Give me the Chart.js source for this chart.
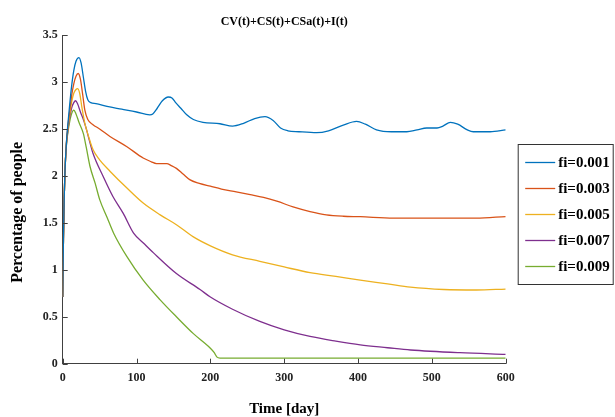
<!DOCTYPE html>
<html>
<head>
<meta charset="utf-8">
<script src="https://cdn.jsdelivr.net/npm/chart.js@4/dist/chart.umd.min.js"></script>
<style>
html,body{margin:0;padding:0;background:#fff;}
#wrap{width:615px;height:417px;}
</style>
</head>
<body>
<div id="wrap"><canvas id="c" width="615" height="417"></canvas></div>
<script>
// ---- data ----
const chartTitle = 'CV(t)+CS(t)+CSa(t)+I(t)';
const xTitle = 'Time [day]';
const yTitle = 'Percentage of people';
const seriesLabels = ['fi=0.001', 'fi=0.003', 'fi=0.005', 'fi=0.007', 'fi=0.009'];
const seriesColors = ['#0072BD', '#D95319', '#EDB120', '#7E2F8E', '#77AC30'];

const tFi001 = [0,1,2,3,5,7,9,12,15,18,22,25,28,31,34,38,45,60,80,100,118,122,128,135,143,148,153,160,168,177,190,213,230,245,260,274,285,295,305,320,344,360,380,398,410,425,445,466,480,493,507,515,525,535,548,556,579,600];
const vFi001 = [0.71,1.32,1.75,2.03,2.35,2.55,2.72,2.95,3.12,3.22,3.26,3.2,3.05,2.9,2.81,2.78,2.77,2.74,2.71,2.68,2.65,2.66,2.72,2.8,2.84,2.83,2.78,2.72,2.65,2.6,2.57,2.555,2.53,2.56,2.61,2.63,2.59,2.51,2.48,2.47,2.46,2.48,2.54,2.58,2.55,2.49,2.47,2.47,2.49,2.51,2.51,2.53,2.57,2.55,2.49,2.47,2.47,2.49];

const tFi003 = [0,1,2,3,5,7,9,12,15,18,21,24,27,30,34,41,50,64,87,109,120,127,135,141,147,154,163,172,185,200,215,235,254,272,290,312,335,357,380,403,448,515,560,600];
const vFi003 = [0.71,1.32,1.75,2.03,2.35,2.53,2.66,2.85,2.98,3.06,3.09,3.03,2.87,2.7,2.6,2.545,2.5,2.42,2.31,2.19,2.15,2.13,2.13,2.13,2.11,2.08,2.02,1.96,1.92,1.89,1.86,1.83,1.8,1.77,1.73,1.67,1.62,1.585,1.57,1.565,1.55,1.55,1.55,1.567];

const tFi005 = [0,1,2,3,5,7,9,12,15,18,20,23,26,30,35,41,50,64,87,109,132,154,177,200,230,267,300,335,370,403,440,471,516,560,600];
const vFi005 = [0.71,1.32,1.75,2.03,2.34,2.5,2.62,2.78,2.88,2.92,2.93,2.88,2.73,2.56,2.42,2.28,2.17,2.05,1.87,1.71,1.585,1.48,1.35,1.255,1.16,1.09,1.03,0.97,0.93,0.89,0.85,0.815,0.79,0.785,0.795];

const tFi007 = [0,1,2,3,5,7,9,12,15,17.5,20,24,28,32,36,41,55,68,82,96,110,123,154,186,200,230,267,300,335,370,403,440,471,538,600];
const vFi007 = [0.71,1.32,1.75,2.03,2.33,2.48,2.6,2.72,2.78,2.8,2.77,2.68,2.6,2.5,2.38,2.24,1.99,1.78,1.6,1.39,1.28,1.18,0.96,0.79,0.71,0.58,0.45,0.36,0.29,0.24,0.2,0.17,0.146,0.117,0.1];

const tFi009 = [0,1,2,3,5,7,9,12,15,18,22,28,32,37,44,50,60,69,87,109,132,154,177,200,205,209,213,600];
const vFi009 = [0.71,1.32,1.75,2.03,2.32,2.46,2.56,2.66,2.7,2.66,2.57,2.45,2.3,2.1,1.92,1.75,1.56,1.39,1.14,0.89,0.68,0.5,0.32,0.165,0.12,0.07,0.06,0.06];

const xTickStep = 100, xMin = 0, xMax = 600;
const yTickStep = 0.5, yMin = 0, yMax = 3.5;

// ---- build chart ----
const FONT = "'Liberation Serif', 'Times New Roman', serif";
const times = [tFi001, tFi003, tFi005, tFi007, tFi009];
const values = [vFi001, vFi003, vFi005, vFi007, vFi009];

const datasets = seriesLabels.map((lab, i) => ({
  label: lab,
  data: times[i].map((t, k) => ({x: t, y: values[i][k]})),
  borderColor: seriesColors[i],
  backgroundColor: seriesColors[i],
  borderWidth: 1.3,
  pointRadius: 0,
  fill: false,
  cubicInterpolationMode: 'monotone'
}));

const innerTicks = {
  id: 'innerTicks',
  afterDatasetsDraw(chart) {
    const {ctx, chartArea: a} = chart;
    const xs = chart.scales.x, ys = chart.scales.y;
    ctx.save();
    ctx.strokeStyle = '#404040';
    ctx.lineWidth = 1;
    ctx.beginPath();
    xs.ticks.forEach(tk => {
      const px = Math.round(xs.getPixelForValue(tk.value)) + 0.5;
      ctx.moveTo(px, a.bottom);
      ctx.lineTo(px, a.bottom - 5);
    });
    ys.ticks.forEach(tk => {
      const py = Math.round(ys.getPixelForValue(tk.value)) + 0.5;
      ctx.moveTo(a.left, py);
      ctx.lineTo(a.left + 5, py);
    });
    ctx.stroke();
    ctx.restore();
  }
};

const yTitlePlugin = {
  id: 'yTitlePlugin',
  afterDraw(chart) {
    const {ctx, chartArea: a} = chart;
    ctx.save();
    ctx.translate(18, (a.top + a.bottom) / 2 + 13);
    ctx.rotate(-Math.PI / 2);
    ctx.font = "bold 16px " + FONT;
    ctx.fillStyle = '#000';
    ctx.textAlign = 'center';
    ctx.textBaseline = 'middle';
    ctx.fillText(yTitle, 0, 0);
    ctx.restore();
  }
};

const boxLegend = {
  id: 'boxLegend',
  afterDraw(chart) {
    const {ctx, chartArea: a} = chart;
    const left = a.right + 12.5, top = 144.5, w = 95, h = 140;
    ctx.save();
    ctx.fillStyle = '#fff';
    ctx.fillRect(left, top, w, h);
    ctx.strokeStyle = '#333';
    ctx.lineWidth = 1;
    ctx.strokeRect(left, top, w, h);
    ctx.font = "bold 15px " + FONT;
    ctx.textAlign = 'left';
    ctx.textBaseline = 'middle';
    chart.data.datasets.forEach((ds, i) => {
      const y = top + 18 + i * 26;
      ctx.strokeStyle = ds.borderColor;
      ctx.lineWidth = 1.3;
      ctx.beginPath();
      ctx.moveTo(left + 7, y);
      ctx.lineTo(left + 37, y);
      ctx.stroke();
      ctx.fillStyle = '#000';
      ctx.fillText(ds.label, left + 40, y + 1);
    });
    ctx.restore();
  }
};

new Chart(document.getElementById('c'), {
  type: 'line',
  data: {datasets},
  plugins: [innerTicks, yTitlePlugin, boxLegend],
  options: {
    responsive: false,
    animation: false,
    devicePixelRatio: 1,
    layout: {padding: {left: 0, right: 109.3, top: 0, bottom: 0}},
    plugins: {
      legend: {display: false},
      tooltip: {enabled: false},
      title: {
        display: true,
        text: chartTitle,
        fullSize: false,
        color: '#000',
        font: {family: FONT, size: 12, weight: 'bold', lineHeight: 1.2},
        padding: {top: 15, bottom: 5.6}
      }
    },
    scales: {
      x: {
        type: 'linear',
        min: xMin, max: xMax,
        ticks: {stepSize: xTickStep, color: '#222', padding: 7, maxRotation: 0,
                font: {family: FONT, size: 12, weight: 'bold'},
                callback: v => String(Math.round(v))},
        grid: {display: false, drawTicks: false},
        border: {display: true, color: '#404040', width: 1},
        title: {display: true, text: xTitle, color: '#000',
                font: {family: FONT, size: 15, weight: 'bold', lineHeight: 1},
                padding: {top: 0, bottom: 0}},
        afterFit(s) { s.height = 53.3; }
      },
      y: {
        min: yMin, max: yMax,
        ticks: {stepSize: yTickStep, color: '#222', padding: 5,
                font: {family: FONT, size: 12, weight: 'bold'},
                callback: v => String(Math.round(v * 100) / 100)},
        grid: {display: false, drawTicks: false},
        border: {display: true, color: '#404040', width: 1},
        afterFit(s) { s.width = 62.7; }
      }
    }
  }
});
</script>
</body>
</html>
